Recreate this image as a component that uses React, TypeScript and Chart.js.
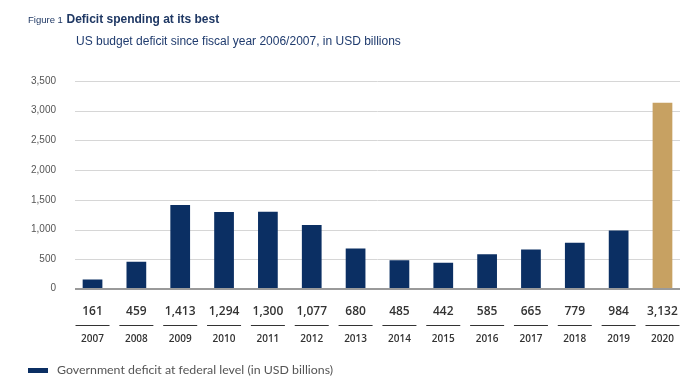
import React, { useEffect, useRef } from "react";
import { Chart, registerables } from "chart.js";

Chart.register(...registerables);

const years = ["2007", "2008", "2009", "2010", "2011", "2012", "2013", "2014", "2015", "2016", "2017", "2018", "2019", "2020"];
const deficits = [161, 459, 1413, 1294, 1300, 1077, 680, 485, 442, 585, 665, 779, 984, 3132];
const yTicks = [0, 500, 1000, 1500, 2000, 2500, 3000, 3500];
const seriesLabel = "Government deficit at federal level (in USD billions)";
const figureLabel = "Figure 1";
const titleText = "Deficit spending at its best";
const subtitleText = "US budget deficit since fiscal year 2006/2007, in USD billions";

const NAVY = "#0b2f63";
const GOLD = "#c7a162";
const fmt = (v: number) => v.toLocaleString("en-US");

const decorPlugin = {
  id: "decor",
  beforeDatasetsDraw(chart: any) {
    const ctx = chart.ctx;
    const y = chart.scales.y;
    ctx.save();
    yTicks.forEach((t) => {
      const py = Math.round(y.getPixelForValue(t));
      if (t === 0) return;
      ctx.strokeStyle = "#d6d6d6";
      ctx.lineWidth = 1;
      ctx.beginPath();
      ctx.moveTo(75, py + 0.5);
      ctx.lineTo(680, py + 0.5);
      ctx.stroke();
    });
    ctx.fillStyle = "#555";
    ctx.font = "10px 'Liberation Sans', Arial, sans-serif";
    ctx.textAlign = "right";
    ctx.textBaseline = "middle";
    yTicks.forEach((t) => {
      const py = y.getPixelForValue(t);
      ctx.fillText(fmt(t), 56, py + (t === 0 ? -1 : 0));
    });
    ctx.restore();
  },
  afterDatasetsDraw(chart: any) {
    const ctx = chart.ctx;
    const x = chart.scales.x;
    const y = chart.scales.y;
    ctx.save();
    const py0 = y.getPixelForValue(0);
    ctx.strokeStyle = "#9a9a9a";
    ctx.lineWidth = 2;
    ctx.beginPath();
    ctx.moveTo(75, py0);
    ctx.lineTo(680, py0);
    ctx.stroke();

    years.forEach((yr, i) => {
      const cx = x.getPixelForValue(i);
      ctx.fillStyle = "#333";
      ctx.textAlign = "center";
      ctx.textBaseline = "middle";
      ctx.font = "600 12px 'Open Sans', Lato, sans-serif";
      ctx.fillText(fmt(deficits[i]), cx, 312);
      ctx.strokeStyle = "#333";
      ctx.lineWidth = 1.2;
      ctx.beginPath();
      ctx.moveTo(cx - 17, 325.5);
      ctx.lineTo(cx + 17, 325.5);
      ctx.stroke();
      ctx.font = "600 10px 'Open Sans', Lato, sans-serif";
      ctx.fillText(yr, cx, 339);
    });

    ctx.textAlign = "left";
    ctx.textBaseline = "alphabetic";
    ctx.fillStyle = "#1f3864";
    ctx.font = "9.5px 'Liberation Sans', Arial, sans-serif";
    ctx.fillText(figureLabel, 28, 23);
    const w = ctx.measureText(figureLabel + " ").width;
    ctx.font = "bold 12px 'Liberation Sans', Arial, sans-serif";
    ctx.fillText(titleText, 28 + w + 1, 23);
    ctx.font = "12px 'Liberation Sans', Arial, sans-serif";
    ctx.fillStyle = "#1f3b6e";
    ctx.fillText(subtitleText, 76, 45);

    ctx.fillStyle = NAVY;
    ctx.fillRect(28, 368, 20, 5);
    ctx.fillStyle = "#555";
    ctx.font = "12px Lato, 'Open Sans', sans-serif";
    ctx.textBaseline = "middle";
    const legendW = ctx.measureText(seriesLabel).width;
    const scale = 276 / legendW;
    ctx.font = `${(12 * Math.min(Math.max(scale, 0.9), 1.1)).toFixed(2)}px Lato, 'Open Sans', sans-serif`;
    ctx.fillText(seriesLabel, 57, 370);
    ctx.restore();
  },
};

export default function App() {
  const ref = useRef<HTMLCanvasElement | null>(null);
  useEffect(() => {
    document.body.style.margin = "0";
    const canvas = ref.current!;
    const chart = new Chart(canvas, {
      type: "bar",
      data: {
        labels: years,
        datasets: [
          {
            label: seriesLabel,
            data: deficits,
            backgroundColor: deficits.map((_, i) => (i === deficits.length - 1 ? GOLD : NAVY)),
            barPercentage: 0.45,
            categoryPercentage: 1,
          },
        ],
      },
      options: {
        responsive: false,
        animation: false,
        devicePixelRatio: 1,
        layout: { padding: { left: 70.6, right: 13.6, top: 81, bottom: 98 } },
        plugins: { legend: { display: false }, tooltip: { enabled: false }, title: { display: false } },
        scales: {
          x: { display: false, offset: true },
          y: { display: false, min: 0, max: 3500 },
        },
      },
      plugins: [decorPlugin],
    });
    return () => chart.destroy();
  }, []);
  return (
    <div style={{ width: 698, height: 387, background: "#fff" }}>
      <canvas ref={ref} width={698} height={387} style={{ display: "block" }} />
    </div>
  );
}
